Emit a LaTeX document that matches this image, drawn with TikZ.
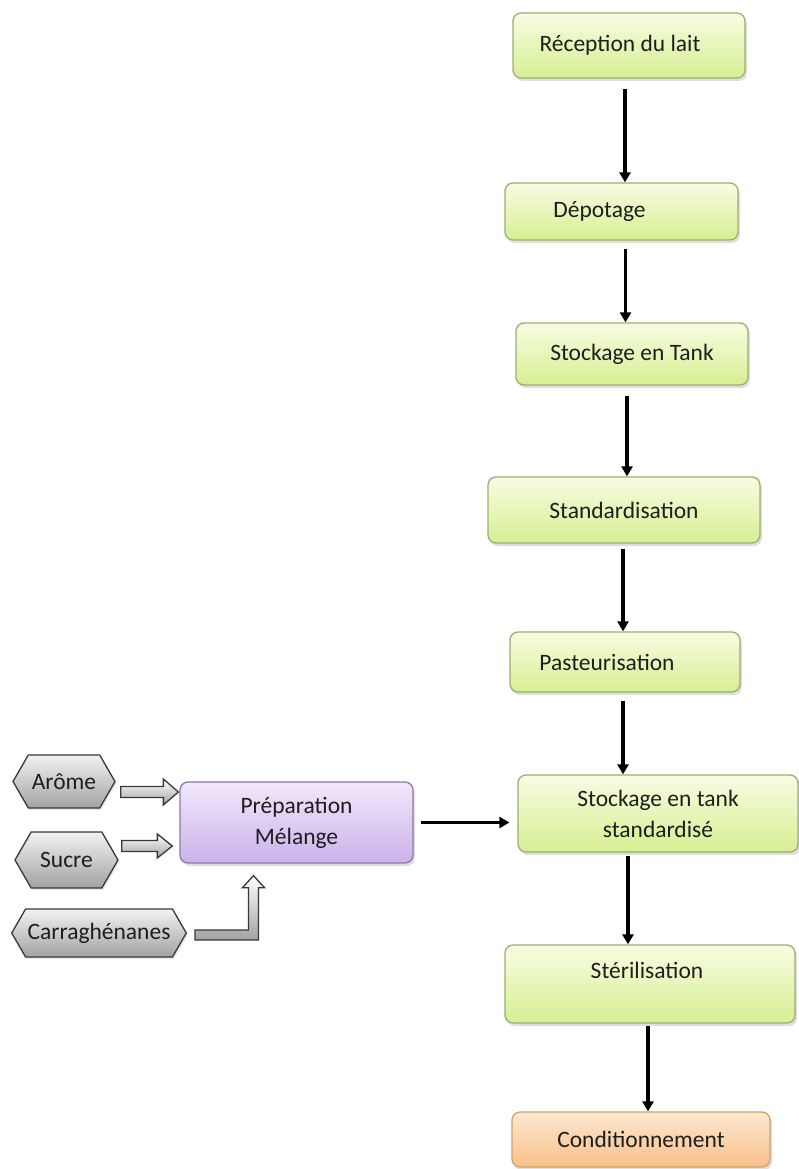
\documentclass[tikz,border=0pt]{standalone}
\usepackage{fontspec}
\setmainfont{Carlito}
\usetikzlibrary{shapes.symbols,shadows,arrows.meta,calc}
\definecolor{gtop}{HTML}{F8FCE2}
\definecolor{gbot}{HTML}{D6EF92}
\definecolor{gdraw}{HTML}{9DAE72}
\definecolor{ptop}{HTML}{F1E8FB}
\definecolor{pbot}{HTML}{CBB2EA}
\definecolor{pdraw}{HTML}{8C78A6}
\definecolor{otop}{HTML}{FDE8D0}
\definecolor{obot}{HTML}{F8C08A}
\definecolor{odraw}{HTML}{D3A06A}
\definecolor{htop}{HTML}{F2F2F2}
\definecolor{hbot}{HTML}{A2A2A2}
\definecolor{hdraw}{HTML}{383838}
\definecolor{txt}{HTML}{1E1E1E}
\tikzset{
  x=1pt, y=-1pt,
  tfont/.style={font=\fontsize{23.5}{31}\selectfont, text=txt},
  base/.style={rounded corners=8pt, line width=1.3pt, tfont,
    drop shadow={shadow xshift=2pt, shadow yshift=-3pt, opacity=0.25}},
  greenbox/.style={base, draw=gdraw, top color=gtop, bottom color=gbot},
  purplebox/.style={base, draw=pdraw, top color=ptop, bottom color=pbot},
  orangebox/.style={base, draw=odraw, top color=otop, bottom color=obot},
  hexa/.style={shape=signal, signal to=west and east, signal pointer angle=120, draw=hdraw, line width=1.3pt,
    top color=htop, bottom color=hbot, tfont, inner sep=2pt,
    drop shadow={shadow xshift=1.5pt, shadow yshift=-2pt, opacity=0.2}},
  flow/.style={line width=3.2pt, -{Triangle[length=10pt,width=11pt]}, black},
  blockarr/.style={draw=hdraw, line width=1.3pt, top color=white, bottom color=hbot, line join=miter}
}
\begin{document}
\begin{tikzpicture}
\useasboundingbox (0,0) rectangle (799,1169);
% main column
\node[greenbox, minimum width=232pt, minimum height=65pt, label={[tfont,xshift=-9pt]center:Réception du lait}] (r1) at (629,45.5) {};
\node[greenbox, minimum width=233pt, minimum height=57pt, label={[tfont,xshift=-22pt]center:Dépotage}] (r2) at (621.5,211.5) {};
\node[greenbox, minimum width=232pt, minimum height=62pt] (r3) at (632,354) {Stockage en Tank};
\node[greenbox, minimum width=272pt, minimum height=66pt] (r4) at (624,510) {Standardisation};
\node[greenbox, minimum width=230pt, minimum height=60pt, label={[tfont,xshift=-18pt]center:Pasteurisation}] (r5) at (625,662) {};
\node[greenbox, minimum width=280pt, minimum height=77pt, align=center] (r6) at (658,813.5) {Stockage en tank\\standardisé};
\node[greenbox, minimum width=290pt, minimum height=78pt, label={[tfont,yshift=14pt,xshift=-3pt]center:Stérilisation}] (r7) at (650,984) {};
\node[orangebox, minimum width=258pt, minimum height=55pt] (r8) at (641,1139.5) {Conditionnement};
% left side
\node[purplebox, minimum width=233pt, minimum height=81pt, align=center] (prep) at (296.5,822.5) {Préparation\\Mélange};
\node[hexa, minimum width=102pt, minimum height=53pt] (arome) at (64,781.5) {Arôme};
\node[hexa, minimum width=103pt, minimum height=56pt] (sucre) at (66.5,860) {Sucre};
\node[hexa, minimum width=172pt, minimum height=48pt] (carra) at (99,933) {Carraghénanes};
% flow arrows
\draw[flow] ([xshift=-4pt,yshift=-10pt]r1.south) -- ([xshift=-4pt]r1.south |- r2.north);
\draw[flow] ([xshift=4pt,yshift=-8pt]r2.south) -- ([xshift=4pt]r2.south |- r3.north);
\draw[flow] ([xshift=-5pt,yshift=-10pt]r3.south) -- ([xshift=-5pt]r3.south |- r4.north);
\draw[flow] ([xshift=-1pt,yshift=-5pt]r4.south) -- ([xshift=-1pt]r4.south |- r5.north);
\draw[flow] ([xshift=-2pt,yshift=-8pt]r5.south) -- ([xshift=-2pt]r5.south |- r6.north);
\draw[flow] ([xshift=-30pt,yshift=-3pt]r6.south) -- ([xshift=-30pt]r6.south |- r7.north);
\draw[flow] ([xshift=-2pt,yshift=-2pt]r7.south) -- ([xshift=-2pt]r7.south |- r8.north);
\draw[flow] ([xshift=7pt]prep.east) -- ([xshift=-8pt]prep.east -| r6.west);
% block arrows
\draw[blockarr] let \p1=([xshift=5pt,yshift=-10.5pt]arome.east), \p2=([xshift=-1pt]prep.west) in
  (\x1,\y1+5.5pt) -- (\x2-15pt,\y1+5.5pt) -- (\x2-15pt,\y1+13pt) -- (\x2,\y1) -- (\x2-15pt,\y1-13pt) -- (\x2-15pt,\y1-5.5pt) -- (\x1,\y1-5.5pt) -- cycle;
\draw[blockarr] let \p1=([xshift=3pt,yshift=14pt]sucre.east), \p2=([xshift=-7pt]prep.west) in
  (\x1,\y1+5.5pt) -- (\x2-15pt,\y1+5.5pt) -- (\x2-15pt,\y1+12pt) -- (\x2,\y1) -- (\x2-15pt,\y1-12pt) -- (\x2-15pt,\y1-5.5pt) -- (\x1,\y1-5.5pt) -- cycle;
\draw[blockarr] let \p1=([xshift=8pt,yshift=-2pt]carra.east), \p2=([xshift=-43pt,yshift=-12pt]prep.south) in
  (\x1,\y1+5pt) -- (\x2-5pt,\y1+5pt) -- (\x2-5pt,\y2-12pt) -- (\x2-11pt,\y2-12pt) -- (\x2,\y2) -- (\x2+11pt,\y2-12pt) -- (\x2+5pt,\y2-12pt) -- (\x2+5pt,\y1-5pt) -- (\x1,\y1-5pt) -- cycle;
\end{tikzpicture}
\end{document}
